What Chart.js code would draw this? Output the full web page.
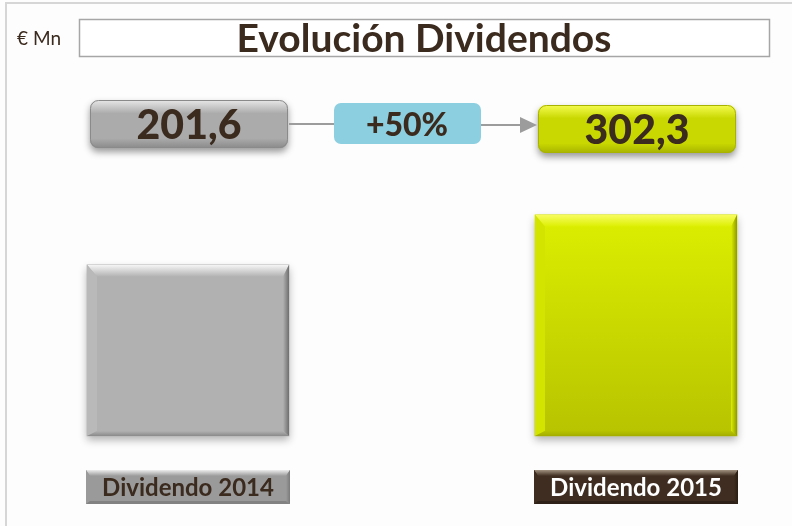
<!DOCTYPE html>
<html><head><meta charset="utf-8">
<script src="https://cdn.jsdelivr.net/npm/chart.js@4"></script>
<style>html,body{margin:0;padding:0;background:#fdfdfd;}#wrap{width:792px;height:526px;position:relative;}</style>
</head><body><div id="wrap"><canvas id="c" width="792" height="526"></canvas></div>
<script>
// ---- data ----
const categories = ['Dividendo 2014', 'Dividendo 2015'];
const dividends = [201.6, 302.3];
const chartTitle = 'Evolución Dividendos';
const unitLabel = '€ Mn';
const valueLabels = dividends.map(v => v.toFixed(1).replace('.', ','));
const changeLabel = '+' + Math.round((dividends[1] / dividends[0] - 1) * 100) + '%';
const axisMin = -143, axisMax = 320;

// ---- styles ----
const FONT = 'Lato, "Open Sans", sans-serif';
const TEXT = '#3b2a1e';
const styles = [
  { base: '#b1b1b1', top: '#f6f6f6', left: '#b9b9b9', right: '#6e6e6e', bottom: '#8a8a8a',
    boxTop: '#e8e8e8', boxMid: '#ababab', boxBot: '#8a8a8a', boxY: 100,
    lblBase: '#9a9a9a', lblTop: '#ececec', lblRight: '#7a7a7a', lblBottom: '#828282', lblText: TEXT },
  { base: ['#dcef00', '#b7c300'], top: '#f8fc60', left: '#d2e400', right: '#8e9800', bottom: '#a3ad00',
    boxTop: '#f6fc50', boxMid: '#c8d800', boxBot: '#a8b300', boxY: 105,
    lblBase: '#3e2d20', lblTop: '#a0917f', lblRight: '#2a1e14', lblBottom: '#2e2218', lblText: '#ffffff' }
];

function rr(ctx, x, y, w, h, r) {
  ctx.beginPath(); ctx.moveTo(x + r, y);
  ctx.arcTo(x + w, y, x + w, y + h, r); ctx.arcTo(x + w, y + h, x, y + h, r);
  ctx.arcTo(x, y + h, x, y, r); ctx.arcTo(x, y, x + w, y, r); ctx.closePath();
}
function bevel(ctx, x0, y0, x1, y1, t, l, r, b, c) {
  let g = ctx.createLinearGradient(0, y0, 0, y0 + t);
  g.addColorStop(0, c.top); g.addColorStop(1, c.topEnd);
  ctx.fillStyle = g; ctx.beginPath();
  ctx.moveTo(x0, y0); ctx.lineTo(x1, y0); ctx.lineTo(x1 - r, y0 + t); ctx.lineTo(x0 + l, y0 + t); ctx.closePath(); ctx.fill();
  ctx.fillStyle = c.left; ctx.beginPath();
  ctx.moveTo(x0, y0); ctx.lineTo(x0 + l, y0 + t); ctx.lineTo(x0 + l, y1 - b); ctx.lineTo(x0, y1); ctx.closePath(); ctx.fill();
  g = ctx.createLinearGradient(x1 - r, 0, x1, 0);
  g.addColorStop(0, c.rightIn); g.addColorStop(1, c.right);
  ctx.fillStyle = g; ctx.beginPath();
  ctx.moveTo(x1, y0); ctx.lineTo(x1, y1); ctx.lineTo(x1 - r, y1 - b); ctx.lineTo(x1 - r, y0 + t); ctx.closePath(); ctx.fill();
  g = ctx.createLinearGradient(0, y1 - b, 0, y1);
  g.addColorStop(0, c.bottomIn || c.bottom); g.addColorStop(1, c.bottom);
  ctx.fillStyle = g; ctx.beginPath();
  ctx.moveTo(x0, y1); ctx.lineTo(x1, y1); ctx.lineTo(x1 - r, y1 - b); ctx.lineTo(x0 + l, y1 - b); ctx.closePath(); ctx.fill();
}

const decor = {
  id: 'decor',
  beforeDraw(chart) {
    const ctx = chart.ctx;
    ctx.save();
    ctx.fillStyle = '#fdfdfd'; ctx.fillRect(0, 0, chart.width, chart.height);
    ctx.fillStyle = '#d6d6d6';
    ctx.fillRect(5, 3, 2, chart.height - 3);
    ctx.fillRect(5, 2, chart.width - 5, 2);
    // title box
    ctx.fillStyle = '#ffffff'; ctx.fillRect(79, 19, 691, 38);
    ctx.strokeStyle = '#a6a6a6'; ctx.lineWidth = 1.5; ctx.strokeRect(79.5, 19.5, 690, 37);
    ctx.fillStyle = TEXT; ctx.textAlign = 'center'; ctx.textBaseline = 'alphabetic';
    ctx.font = 'bold 39px ' + FONT; ctx.fillText(chartTitle, 424, 52);
    ctx.font = '19px ' + FONT; ctx.textAlign = 'left'; ctx.fillText(unitLabel, 17, 45);
    // bar shadows
    const meta = chart.getDatasetMeta(0);
    meta.data.forEach(el => {
      const { x, y, base, width } = el.getProps(['x', 'y', 'base', 'width'], true);
      ctx.save(); ctx.shadowColor = 'rgba(0,0,0,0.3)'; ctx.shadowBlur = 8; ctx.shadowOffsetY = 4;
      ctx.fillStyle = '#999'; ctx.fillRect(x - width / 2, y, width, base - y); ctx.restore();
    });
    ctx.restore();
  },
  afterDatasetsDraw(chart) {
    const ctx = chart.ctx;
    const meta = chart.getDatasetMeta(0);
    ctx.save();
    meta.data.forEach((el, i) => {
      const { x, y, base, width } = el.getProps(['x', 'y', 'base', 'width'], true);
      const s = styles[i];
      const x0 = x - width / 2, x1 = x + width / 2;
      const baseCol = Array.isArray(s.base) ? s.base[0] : s.base;
      const baseBot = Array.isArray(s.base) ? s.base[1] : s.base;
      bevel(ctx, x0, y, x1, base, 12, 10, 6, 5,
        { top: s.top, topEnd: baseCol, left: s.left, rightIn: baseCol, right: s.right, bottomIn: baseBot, bottom: s.bottom });
      // category label box
      const ly = 470, lh = 34, lw = width + 2;
      const lx = x - lw / 2;
      ctx.fillStyle = s.lblBase; ctx.fillRect(lx, ly, lw, lh);
      bevel(ctx, lx, ly, lx + lw, ly + lh, 6, 4, 4, 3,
        { top: s.lblTop, topEnd: s.lblBase, left: s.lblBase, rightIn: s.lblBase, right: s.lblRight, bottom: s.lblBottom });
      ctx.fillStyle = s.lblText; ctx.font = 'bold 24px ' + FONT; ctx.textAlign = 'center'; ctx.textBaseline = 'middle';
      ctx.fillText(categories[i], x, ly + lh / 2 + 1);
      // value box
      const bw = 198, bh = 48, bx = x - bw / 2 + 1, by = s.boxY;
      ctx.save();
      ctx.shadowColor = 'rgba(0,0,0,0.4)'; ctx.shadowBlur = 7; ctx.shadowOffsetY = 4;
      const g = ctx.createLinearGradient(0, by, 0, by + bh);
      g.addColorStop(0, s.boxTop); g.addColorStop(0.28, s.boxMid); g.addColorStop(0.8, s.boxMid); g.addColorStop(1, s.boxBot);
      rr(ctx, bx, by, bw, bh, 8); ctx.fillStyle = g; ctx.fill();
      ctx.restore();
      rr(ctx, bx + 0.5, by + 0.5, bw - 1, bh - 1, 8); ctx.strokeStyle = s.boxBot; ctx.lineWidth = 1; ctx.stroke();
      ctx.fillStyle = TEXT; ctx.font = '900 41px ' + FONT; ctx.textAlign = 'center'; ctx.textBaseline = 'alphabetic';
      ctx.fillText(valueLabels[i], x + 1, by + 39);
    });
    // connector + change box
    ctx.strokeStyle = '#9c9c9c'; ctx.lineWidth = 2;
    ctx.beginPath(); ctx.moveTo(289, 124); ctx.lineTo(334, 124); ctx.stroke();
    ctx.beginPath(); ctx.moveTo(481, 125); ctx.lineTo(522, 125); ctx.stroke();
    ctx.fillStyle = '#9c9c9c'; ctx.beginPath();
    ctx.moveTo(537, 125); ctx.lineTo(520, 117); ctx.lineTo(520, 133); ctx.closePath(); ctx.fill();
    rr(ctx, 334, 103, 147, 41, 7); ctx.fillStyle = '#8ccfe0'; ctx.fill();
    ctx.fillStyle = TEXT; ctx.font = '900 32px ' + FONT; ctx.textAlign = 'center'; ctx.textBaseline = 'alphabetic';
    ctx.fillText(changeLabel, 407, 136);
    ctx.restore();
  }
};

new Chart(document.getElementById('c'), {
  type: 'bar',
  data: {
    labels: categories,
    datasets: [{
      data: dividends,
      base: axisMin,
      clip: false,
      barThickness: 202,
      borderWidth: 0,
      backgroundColor: (c) => {
        const s = styles[c.dataIndex];
        if (!Array.isArray(s.base)) return s.base;
        const area = c.chart.chartArea;
        if (!area) return s.base[0];
        const g = c.chart.ctx.createLinearGradient(0, 215, 0, area.bottom);
        g.addColorStop(0, s.base[0]); g.addColorStop(1, s.base[1]);
        return g;
      }
    }]
  },
  options: {
    responsive: false,
    animation: false,
    devicePixelRatio: 1,
    layout: { padding: { left: 188, right: 156, top: 206, bottom: 90 } },
    plugins: { legend: { display: false }, title: { display: false }, tooltip: { enabled: false } },
    scales: {
      x: { display: false, offset: false, grid: { offset: false } },
      y: { display: false, min: axisMin, max: axisMax }
    }
  },
  plugins: [decor]
});
</script>
</body></html>
